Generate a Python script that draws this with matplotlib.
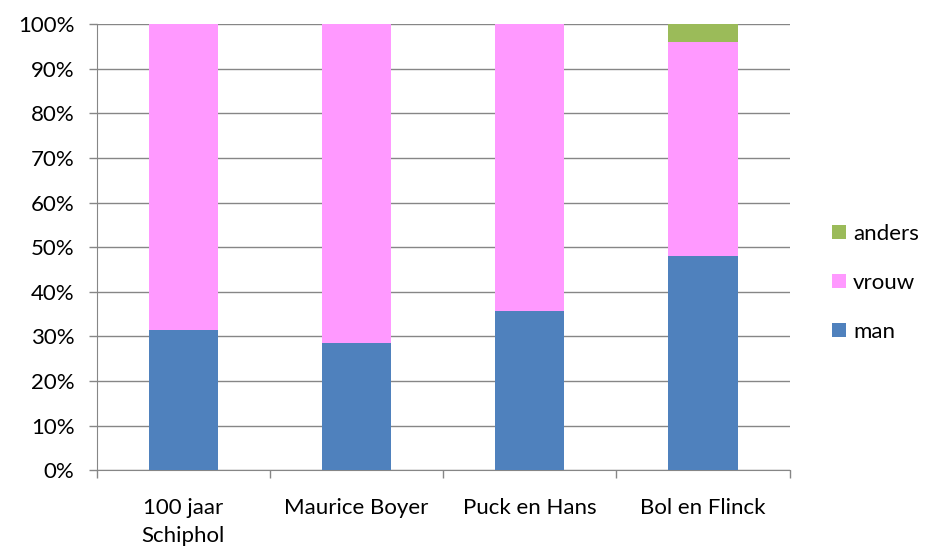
import numpy as np
import matplotlib
matplotlib.use('Agg')
import matplotlib.pyplot as plt
from matplotlib.ticker import PercentFormatter

# ── Data ──────────────────────────────────────────────────────────────────────
categories = ['100 jaar\nSchiphol', 'Maurice Boyer', 'Puck en Hans', 'Bol en Flinck']
man    = [31.5, 28.5, 35.6, 48.0]
vrouw  = [68.5, 71.5, 64.4, 48.0]
anders = [0.0, 0.0, 0.0, 4.0]

series = [('man', man, '#4F81BD'),
          ('vrouw', vrouw, '#FF99FF'),
          ('anders', anders, '#9BBB59')]

FS = 16
plt.rcParams['font.family'] = ['Lato', 'DejaVu Sans']

fig = plt.figure(figsize=(9.3, 5.5), dpi=100, facecolor='white')
ax = fig.add_axes([0.104, 0.145, 0.745, 0.811])

x = np.arange(len(categories))
bottom = np.zeros(len(categories))
handles = []
for name, vals, color in series:
    b = ax.bar(x, vals, width=0.40, bottom=bottom, color=color, label=name, zorder=3)
    handles.append(b)
    bottom += np.array(vals)

ax.set_xlim(-0.5, len(categories) - 0.5)
ax.set_ylim(0, 100)
ax.set_yticks(np.arange(0, 101, 10))
ax.yaxis.set_major_formatter(PercentFormatter(decimals=0))
ax.yaxis.grid(True, color='#868686', lw=1.0, zorder=0)

# category labels centred, ticks at boundaries
ax.set_xticks(x)
ax.set_xticklabels(categories, fontsize=FS, linespacing=1.5)
ax.tick_params(axis='x', length=0, pad=20)
ax.set_xticks(np.arange(-0.5, len(categories), 1.0), minor=True)
ax.tick_params(axis='x', which='minor', length=6, color='#868686', width=1)
ax.tick_params(axis='y', length=6, color='#868686', width=1, labelsize=FS, pad=10)

for side in ['top', 'right']:
    ax.spines[side].set_visible(False)
for side in ['left', 'bottom']:
    ax.spines[side].set_color('#868686')

leg = ax.legend(handles[::-1], [s[0] for s in series][::-1],
                loc='center left', bbox_to_anchor=(1.049, 0.42), borderaxespad=0,
                frameon=False, fontsize=FS, handlelength=0.63, handleheight=0.63,
                handletextpad=0.3, labelspacing=1.3)

fig.savefig('out.png', dpi=100, facecolor='white')
